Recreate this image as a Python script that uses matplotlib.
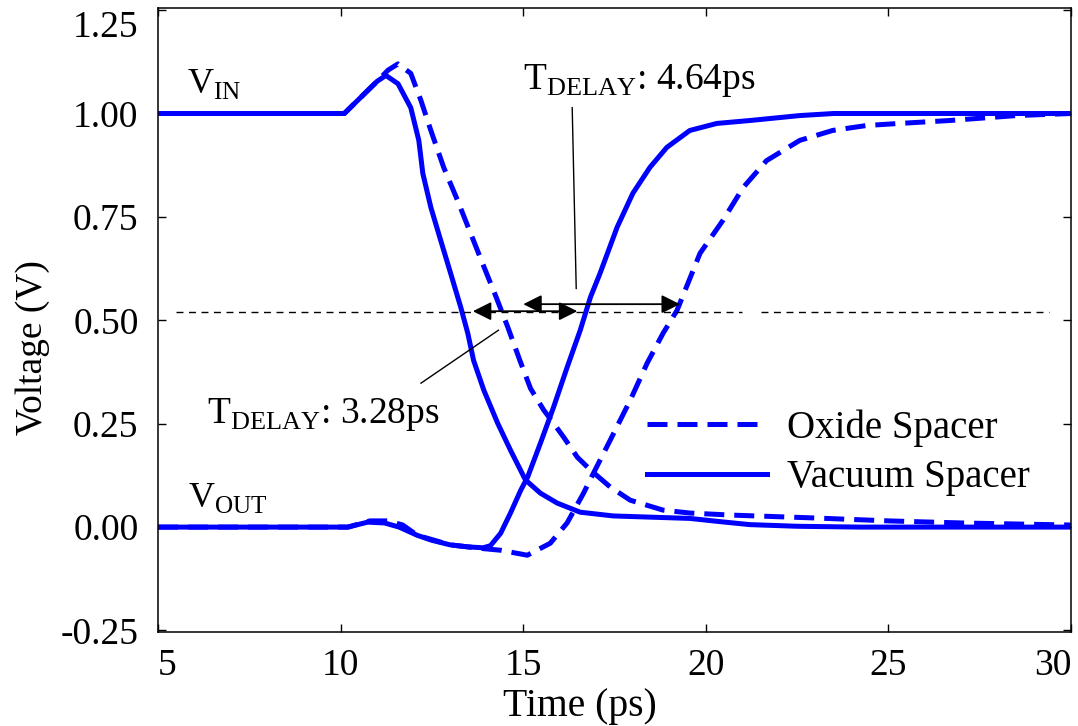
import matplotlib
matplotlib.use("Agg")
import matplotlib.pyplot as plt

# values (time in ps, voltage in V)
t_vin_vac = [5, 10.1, 11.0, 11.24, 11.57, 11.92, 12.14, 12.25, 12.47, 12.74, 13.01, 13.29,
             13.48, 13.64, 13.92, 14.3, 14.65, 15.06, 15.47, 15.93, 16.56, 17.46, 18.5,
             19.56, 20.3, 21.2, 22.5, 24.2, 30]
v_vin_vac = [1.0, 1.0, 1.078, 1.092, 1.072, 1.014, 0.935, 0.855, 0.773, 0.693, 0.614, 0.531,
             0.469, 0.403, 0.331, 0.251, 0.186, 0.114, 0.082, 0.058, 0.036, 0.027, 0.024,
             0.021, 0.014, 0.006, 0.002, 0.0, 0.0]

t_vin_ox = [5, 10.1, 11.0, 11.3, 11.57, 11.92, 12.2, 12.47, 12.82, 13.2, 13.56, 13.92, 14.24,
            14.57, 14.92, 15.2, 15.56, 15.83, 16.11, 16.48, 16.84, 17.38, 17.93, 18.83, 19.56,
            20.7, 23, 25, 27, 30]
v_vin_ox = [1.0, 1.0, 1.078, 1.105, 1.12, 1.097, 1.031, 0.959, 0.87, 0.79, 0.71, 0.63, 0.56,
            0.485, 0.40, 0.335, 0.283, 0.251, 0.217, 0.169, 0.138, 0.097, 0.065, 0.041, 0.034,
            0.029, 0.022, 0.015, 0.01, 0.005]

t_vout_vac = [5, 10.2, 10.74, 11.2, 11.6, 12.1, 12.5, 13.0, 13.5, 13.9, 14.1, 14.38, 14.65,
              14.93, 15.12, 15.47, 15.83, 16.2, 16.56, 16.84, 17.1, 17.57, 18.0, 18.47, 18.93,
              19.56, 20.3, 21.2, 22.57, 23.5, 30]
v_vout_vac = [0.0, 0.0, 0.012, 0.01, 0.0, -0.02, -0.032, -0.043, -0.048, -0.05, -0.045, -0.015,
              0.034, 0.089, 0.121, 0.203, 0.29, 0.386, 0.476, 0.556, 0.613, 0.725, 0.807, 0.87,
              0.918, 0.959, 0.976, 0.983, 0.995, 1.0, 1.0]

t_vout_ox = [5, 10.2, 10.8, 11.3, 11.7, 12.1, 13.0, 13.9, 14.38, 15.11, 15.74, 16.2, 16.65,
             16.92, 17.38, 17.93, 18.39, 18.83, 19.21, 19.84, 20.47, 21.02, 21.66, 22.57, 23.47,
             24.4, 25.3, 26.66, 28.5, 30]
v_vout_ox = [0.0, 0.0, 0.015, 0.015, 0.005, -0.02, -0.043, -0.052, -0.056, -0.068, -0.039, 0.01,
             0.082, 0.13, 0.21, 0.307, 0.396, 0.469, 0.524, 0.662, 0.742, 0.821, 0.886, 0.935,
             0.959, 0.971, 0.976, 0.983, 0.995, 1.0]

v_mid = 0.52
mid_segments = [(5.5, 21.0), (21.5, 29.4)]
delay_vac = (13.62, 16.48, 0.522)
delay_ox = (15.0, 19.29, 0.539)
leader_ox = ([16.34, 16.45], [1.014, 0.577])
leader_vac = ([12.2, 14.32], [0.348, 0.476])

yticks = [-0.25, 0.0, 0.25, 0.5, 0.75, 1.0, 1.25]
xticks = [5, 10, 15, 20, 25, 30]

plt.rcParams['font.family'] = ['Liberation Serif', 'DejaVu Serif']
plt.rcParams['mathtext.fontset'] = 'custom'
plt.rcParams['mathtext.rm'] = 'Liberation Serif'
plt.rcParams['axes.unicode_minus'] = False

blue = '#0000ff'
fig = plt.figure(figsize=(10.78, 7.26), dpi=100)
ax = fig.add_axes([0.1466, 0.1295, 0.847, 0.860])

ax.plot(t_vin_ox, v_vin_ox, color=blue, lw=3.6, dashes=(4, 2), label='Oxide Spacer')
ax.plot(t_vin_vac, v_vin_vac, color=blue, lw=3.6, label='Vacuum Spacer', solid_joinstyle='round')
ax.plot(t_vout_ox, v_vout_ox, color=blue, lw=3.6, dashes=(4, 2))
ax.plot(t_vout_vac, v_vout_vac, color=blue, lw=3.6, solid_joinstyle='round')

for a, b in mid_segments:
    ax.plot([a, b], [v_mid, v_mid], color='k', lw=1, dashes=(5, 4))

for x0, x1, y in [delay_vac, delay_ox]:
    ax.annotate('', xy=(x1, y), xytext=(x0, y),
                arrowprops=dict(arrowstyle='<|-|>', color='k', lw=1.3,
                                mutation_scale=28, shrinkA=0, shrinkB=0))
ax.plot(*leader_ox, color='k', lw=1)
ax.plot(*leader_vac, color='k', lw=1)

ax.text(5.8, 1.05, r'V$_{\mathrm{IN}}$', fontsize=26)
ax.text(5.83, 0.048, r'V$_{\mathrm{OUT}}$', fontsize=26)
ax.text(14.98, 1.06, r'T$_{\mathrm{DELAY}}$: 4.64ps', fontsize=27)
ax.text(6.33, 0.251, r'T$_{\mathrm{DELAY}}$: 3.28ps', fontsize=27)

ax.legend(loc='upper left', bbox_to_anchor=(0.535, 0.357), frameon=False, fontsize=28,
          handlelength=3.1, handletextpad=0.5, labelspacing=0.33, borderpad=0,
          borderaxespad=0)

ax.set_xlim(5, 30)
ax.set_ylim(-0.2536, 1.256)
ax.set_xticks(xticks)
ax.set_yticks(yticks)
ax.set_yticklabels([f'{v:.2f}' for v in yticks])
ax.tick_params(direction='in', top=True, right=True, length=6, width=1, labelsize=27)
ax.tick_params(axis='x', pad=12)
ax.tick_params(axis='y', pad=14)
for s in ax.spines.values():
    s.set_linewidth(1.1)

# edge labels sit inside the frame as in the reference
ax.get_yticklabels()[-1].set_verticalalignment('top')
ax.get_xticklabels()[0].set_horizontalalignment('left')
ax.get_xticklabels()[-1].set_horizontalalignment('right')

ax.set_xlabel('Time (ps)', fontsize=28.5)
ax.set_ylabel('Voltage (V)', fontsize=27)
ax.xaxis.set_label_coords(0.462, -0.09)
ax.yaxis.set_label_coords(-0.118, 0.456)

fig.savefig('out.png', dpi=100)
